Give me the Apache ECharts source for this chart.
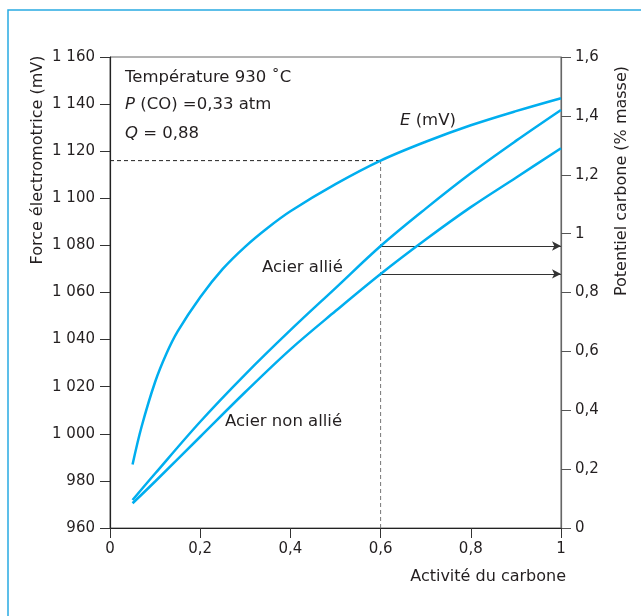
<!DOCTYPE html>
<html>
<head>
<meta charset="utf-8">
<script src="https://cdn.jsdelivr.net/npm/echarts@6/dist/echarts.min.js"></script>
<style>html,body{margin:0;padding:0;background:#fff;}#c{width:641px;height:616px;}</style>
</head>
<body>
<div id="c"></div>
<script>
// Data
const xE = [0.05, 0.07, 0.1, 0.125, 0.15, 0.2, 0.25, 0.3, 0.35, 0.4, 0.5, 0.6, 0.7, 0.8, 0.9, 1.0];
const emf = [987, 1003, 1022, 1034, 1043.5, 1058, 1070, 1079.5, 1087.5, 1094.5, 1106, 1116, 1124, 1131, 1137, 1142.5];
const xC = [0.05, 0.1, 0.2, 0.3, 0.4, 0.5, 0.6, 0.7, 0.8, 0.9, 1.0];
const acierAllie = [0.095, 0.185, 0.361, 0.522, 0.672, 0.815, 0.958, 1.085, 1.205, 1.315, 1.42];
const acierNonAllie = [0.084, 0.158, 0.31, 0.462, 0.607, 0.737, 0.863, 0.98, 1.09, 1.19, 1.29];
const readX = 0.6;
const readE = 1116;
const readAllie = 0.958;
const readNonAllie = 0.863;

const BLUE = '#00aeef';
const TXT = '#231f20';
const FONT = '"DejaVu Sans", Verdana, sans-serif';
const FS = 15;     // tick labels
const FT = 16;     // axis titles
const FA = 16.5;   // annotations

const comma = v => String(Math.round(v * 10) / 10).replace('.', ',');
const mv = v => { const s = String(Math.round(v)); return s.length > 3 ? s.slice(0, s.length - 3) + ' ' + s.slice(-3) : s; };

const zip = (xs, ys) => xs.map((x, i) => [x, ys[i]]);
const ital = { i: { fontStyle: 'italic', fontSize: FA, fontFamily: FONT, fill: TXT } };

const chart = echarts.init(document.getElementById('c'));
chart.setOption({
  animation: false,
  backgroundColor: '#fff',
  textStyle: { fontFamily: FONT },
  grid: { left: 110, right: 80, top: 57, bottom: 88, show: true, borderColor: '#666', borderWidth: 1 },
  xAxis: {
    type: 'value', min: 0, max: 1, interval: 0.2,
    axisLine: { lineStyle: { color: '#222', width: 1.2 } },
    axisTick: { inside: false, length: 10, lineStyle: { color: '#333' } },
    axisLabel: { color: TXT, fontSize: FS, fontFamily: FONT, margin: 14, formatter: comma },
    splitLine: { show: false }
  },
  yAxis: [
    {
      type: 'value', min: 960, max: 1160, interval: 20, position: 'left',
      axisLine: { show: true, lineStyle: { color: '#222', width: 1.2 } },
      axisTick: { show: true, length: 10, lineStyle: { color: '#333' } },
      axisLabel: { color: TXT, fontSize: FS, fontFamily: FONT, margin: 15, formatter: mv },
      splitLine: { show: false }
    },
    {
      type: 'value', min: 0, max: 1.6, interval: 0.2, position: 'right',
      axisLine: { show: true, lineStyle: { color: '#666', width: 1.2 } },
      axisTick: { show: true, length: 10, lineStyle: { color: '#555' } },
      axisLabel: { color: TXT, fontSize: FS, fontFamily: FONT, margin: 14, formatter: comma },
      splitLine: { show: false }
    }
  ],
  series: [
    {
      name: 'E (mV)', type: 'line', yAxisIndex: 0, data: zip(xE, emf),
      smooth: 0.35, showSymbol: false, lineStyle: { color: BLUE, width: 2.5 }, z: 5
    },
    {
      name: 'Acier allié', type: 'line', yAxisIndex: 1, data: zip(xC, acierAllie),
      smooth: 0.35, showSymbol: false, lineStyle: { color: BLUE, width: 2.5 }, z: 5
    },
    {
      name: 'Acier non allié', type: 'line', yAxisIndex: 1, data: zip(xC, acierNonAllie),
      smooth: 0.35, showSymbol: false, lineStyle: { color: BLUE, width: 2.5 }, z: 5,
      markLine: {
        silent: true, symbol: ['none', 'arrow'], symbolSize: [7, 9],
        label: { show: false },
        lineStyle: { color: '#333', type: 'solid', width: 1 },
        data: [
          [{ coord: [readX, readAllie] }, { coord: [1, readAllie] }],
          [{ coord: [readX, readNonAllie] }, { coord: [1, readNonAllie] }]
        ]
      }
    },
    {
      name: 'h', type: 'line', yAxisIndex: 0, data: [[0, readE], [readX, readE]],
      showSymbol: false, lineStyle: { color: '#222', width: 1, type: [4, 3] }, z: 2
    },
    {
      name: 'v', type: 'line', yAxisIndex: 0, data: [[readX, 960], [readX, readE]],
      showSymbol: false, lineStyle: { color: '#777', width: 1, type: [4, 3] }, z: 2
    }
  ],
  graphic: [
    { type: 'rect', shape: { x: 8, y: 10, width: 700, height: 700 }, style: { fill: 'none', stroke: '#29abe2', lineWidth: 1.5 }, silent: true },
    { type: 'text', x: 38, y: 160, rotation: Math.PI / 2, style: { text: 'Force électromotrice (mV)', fill: TXT, font: FT + 'px ' + FONT, align: 'center', verticalAlign: 'middle' } },
    { type: 'text', x: 622, y: 181, rotation: Math.PI / 2, style: { text: 'Potentiel carbone (% masse)', fill: TXT, font: FT + 'px ' + FONT, align: 'center', verticalAlign: 'middle' } },
    { type: 'text', x: 566, y: 577, style: { text: 'Activité du carbone', fill: TXT, font: FT + 'px ' + FONT, align: 'right', verticalAlign: 'middle' } },
    { type: 'text', x: 125, y: 78, style: { text: 'Température 930 ˚C', fill: TXT, font: FA + 'px ' + FONT, verticalAlign: 'middle' } },
    { type: 'text', x: 125, y: 105, style: { text: '{i|P} (CO) =0,33 atm', fill: TXT, font: FA + 'px ' + FONT, verticalAlign: 'middle', rich: ital } },
    { type: 'text', x: 125, y: 134, style: { text: '{i|Q} = 0,88', fill: TXT, font: FA + 'px ' + FONT, verticalAlign: 'middle', rich: ital } },
    { type: 'text', x: 400, y: 121, style: { text: '{i|E} (mV)', fill: TXT, font: FA + 'px ' + FONT, verticalAlign: 'middle', rich: ital } },
    { type: 'text', x: 262, y: 268, style: { text: 'Acier allié', fill: TXT, font: FA + 'px ' + FONT, verticalAlign: 'middle' } },
    { type: 'text', x: 225, y: 422, style: { text: 'Acier non allié', fill: TXT, font: FA + 'px ' + FONT, verticalAlign: 'middle' } }
  ]
});
</script>
</body>
</html>
